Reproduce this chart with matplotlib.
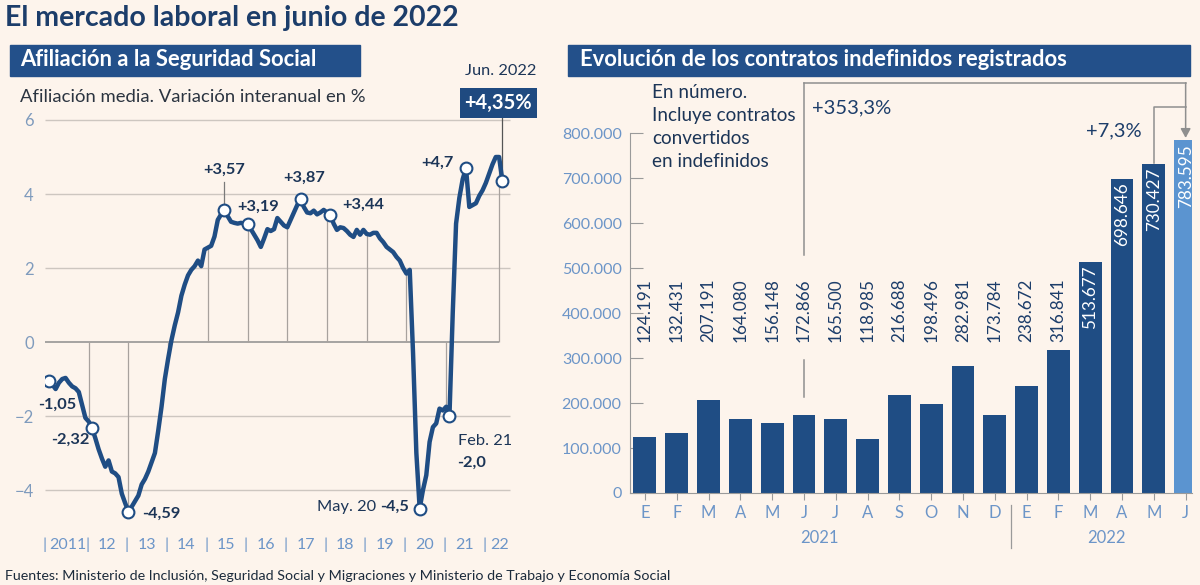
import matplotlib
matplotlib.use("Agg")
import matplotlib.pyplot as plt
from matplotlib.patches import Rectangle
from matplotlib import transforms

plt.rcParams["font.family"] = ["Lato", "DejaVu Sans"]

# ---- data ----
# afiliacion media, variacion interanual (%), mensual ene 2011 - jun 2022
afil = [-1.05, -1.15, -1.27, -1.10, -1.00, -0.97, -1.10, -1.20, -1.25, -1.35, -1.70, -2.05,
        -2.15, -2.32, -2.60, -2.90, -3.15, -3.37, -3.20, -3.50, -3.55, -3.65, -4.10, -4.35,
        -4.59, -4.45, -4.30, -4.15, -3.85, -3.70, -3.50, -3.25, -3.00, -2.40, -1.75, -1.00,
        -0.45, 0.05, 0.45, 0.80, 1.25, 1.55, 1.80, 1.95, 2.05, 2.20, 2.05, 2.50,
        2.55, 2.60, 2.85, 3.30, 3.45, 3.57, 3.40, 3.25, 3.22, 3.20, 3.22, 3.20,
        3.19, 3.05, 2.90, 2.75, 2.57, 2.80, 3.05, 3.00, 3.05, 3.35, 3.25, 3.15,
        3.10, 3.30, 3.50, 3.70, 3.87, 3.65, 3.50, 3.48, 3.55, 3.45, 3.50, 3.57,
        3.50, 3.44, 3.20, 3.03, 3.10, 3.08, 3.00, 2.90, 2.84, 3.03, 2.90, 3.03,
        2.92, 2.90, 2.95, 2.95, 2.80, 2.70, 2.57, 2.50, 2.43, 2.30, 2.20, 2.00,
        1.85, 1.95, -0.30, -3.00, -4.50, -4.00, -3.60, -2.70, -2.30, -2.20, -1.80, -1.85,
        -1.75, -2.00, 0.80, 3.20, 3.90, 4.40, 4.70, 3.65, 3.70, 3.75, 3.95, 4.10,
        4.30, 4.55, 4.80, 5.00, 5.00, 4.35]
years = ["2011", "12", "13", "14", "15", "16", "17", "18", "19", "20", "21", "22"]
marked = [0, 13, 24, 53, 60, 76, 85, 112, 121, 126, 137]

# contratos indefinidos registrados, ene 2021 - jun 2022
meses = ["E", "F", "M", "A", "M", "J", "J", "A", "S", "O", "N", "D",
         "E", "F", "M", "A", "M", "J"]
contratos = [124191, 132431, 207191, 164080, 156148, 172866, 165500, 118985, 216688,
             198496, 282981, 173784, 238672, 316841, 513677, 698646, 730427, 783595]

navy = "#1f4d84"
light = "#5b94d0"
tick_blue = "#6c95c8"
grey_txt = "#7f9bbd"
bg = "#fdf4ec"
W, H = 1200, 585


def fx(x):
    return x / W


def fy(y):
    return 1 - y / H


def fmt(n):
    return f"{n:,}".replace(",", ".")


fig = plt.figure(figsize=(12, 5.85), dpi=100, facecolor=bg)

# titles
fig.text(fx(5), fy(18), "El mercado laboral en junio de 2022", fontsize=20.5,
         fontweight="bold", color="#1c3d6a", va="center", ha="left")
fig.patches.append(Rectangle((fx(10), fy(76)), fx(350), 31 / H, transform=fig.transFigure,
                             color="#23508a", zorder=0))
fig.text(fx(20), fy(60), "Afiliación a la Seguridad Social", fontsize=15.8,
         fontweight="bold", color="white", va="center")
fig.patches.append(Rectangle((fx(568), fy(76)), fx(622), 31 / H, transform=fig.transFigure,
                             color="#23508a", zorder=0))
fig.text(fx(580), fy(60), "Evolución de los contratos indefinidos registrados", fontsize=15.8,
         fontweight="bold", color="white", va="center")
fig.text(fx(20), fy(97), "Afiliación media. Variación interanual en %", fontsize=13.3,
         color="#2b3440", va="center")
fig.text(fx(5), fy(576), "Fuentes: Ministerio de Inclusión, Seguridad Social y Migraciones "
         "y Ministerio de Trabajo y Economía Social", fontsize=10.25, color="#1c2b3c",
         va="center")

# ---- left chart ----
axL = fig.add_axes([fx(45), fy(520), fx(512 - 45), 405 / H])
axL.set_facecolor("none")
axL.set_xlim(-1.21, 139.9)
axL.set_ylim(-4.81, 6.135)
for s in axL.spines.values():
    s.set_visible(False)
axL.set_xticks([])
axL.set_yticks([-4, -2, 0, 2, 4, 6])
axL.set_yticklabels(["−4", "−2", "0", "2", "4", "6"])
axL.tick_params(axis="y", length=0, pad=8, labelsize=12, labelcolor=grey_txt)

n = len(afil)
axL.hlines([6, 4, 2, -2, -4], -1.2, 139.3, color="#cdc6c0", lw=1, zorder=1)
axL.hlines(0, -1.2, 136, color="#8e8e8e", lw=1.1, zorder=1)
for k in range(1, 11):
    axL.vlines(12 * k, 0, afil[12 * k], color="#a8a29e", lw=0.9, zorder=1)
axL.vlines(n - 2, 0, afil[n - 2], color="#a8a29e", lw=0.9, zorder=1)

axL.plot(range(n), afil, color=navy, lw=3.2, solid_joinstyle="round", zorder=3)
axL.plot(marked, [afil[i] for i in marked], "o", ms=8.5, mfc="white", mec=navy,
         mew=1.5, zorder=4)

# x labels with separators
ylab = -5.49
for k, yr in enumerate(years):
    xc = 12 * k + 5.5
    sep = 12 * k - 0.5
    if k == 0:
        xc = 5.6
        sep = -1.4
    if k == len(years) - 1:
        xc = 136
    axL.text(xc, ylab, yr, ha="center", va="center", fontsize=11.5, color=tick_blue)
    axL.text(sep, ylab, "|", ha="center", va="center", fontsize=11.5, color=tick_blue)

lab_kw = dict(textcoords="offset pixels", fontsize=11.8, color="#1c3557", va="center")


def lab(i, txt, dx, dy, ha="center", bold=True):
    return axL.annotate(txt, xy=(i, afil[i]), xytext=(dx, dy), ha=ha,
                        fontweight="bold" if bold else "normal", zorder=5, **lab_kw)


lab(0, "-1,05", 8, -24)
lab(13, "-2,32", -3, -12, ha="right")
lab(24, "-4,59", 14, -2, ha="left")
lab(53, "+3,57", 0, 40)
axL.plot([53, 53], [afil[53] + 0.18, afil[53] + 0.75], color="#7a7a7a", lw=0.9, zorder=2)
lab(60, "+3,19", 11, 17)
lab(76, "+3,87", 4, 21)
lab(85, "+3,44", 12, 10, ha="left")
lab(126, "+4,7", -12, 5, ha="right")
a1 = lab(112, "-4,5", -11, 2, ha="right")
axL.annotate("May. 20", xy=(0, 0.5), xycoords=a1, xytext=(-4, 0), textcoords="offset pixels",
             ha="right", va="center", fontsize=11.8, color="#1c3557")
lab(121, "Feb. 21", 9, -25, ha="left", bold=False)
lab(121, "-2,0", 8, -47, ha="left")
axL.annotate("Jun. 2022", xy=(n - 1, afil[-1]), xytext=(-2, 110), ha="center",
             textcoords="offset pixels", fontsize=11.8, color="#1c3557", va="center",
             annotation_clip=False)
axL.annotate("+4,35%", xy=(n - 1, afil[-1]), xytext=(-4, 78), ha="center",
             textcoords="offset pixels", fontsize=14.5, fontweight="bold", color="white",
             va="center", annotation_clip=False,
             bbox=dict(boxstyle="square,pad=0.25", fc="#1f4a80", ec="none"))
axL.plot([n - 1, n - 1], [afil[-1] + 0.17, afil[-1] + 1.8], color="#555555", lw=0.9,
         zorder=2, clip_on=False)

# ---- right chart ----
axR = fig.add_axes([fx(630), fy(493), fx(1192 - 630), (493 - 76) / H])
axR.set_facecolor("none")
axR.set_xlim(-0.47, 17.2)
axR.set_ylim(0, 926667)
xs = list(range(len(contratos)))
colors = [navy] * (len(contratos) - 1) + [light]
axR.bar(xs, contratos, width=0.72, color=colors, zorder=2)

for s in ["top", "right"]:
    axR.spines[s].set_visible(False)
axR.spines["left"].set_bounds(0, 800000)
axR.spines["left"].set_color("#9a9a9a")
axR.spines["bottom"].set_color("#9a9a9a")
axR.set_yticks(range(0, 800001, 100000))
axR.set_yticklabels([fmt(v) for v in range(0, 800001, 100000)])
axR.tick_params(axis="y", direction="in", length=9, color="#9a9a9a", pad=6,
                labelsize=11.5, labelcolor=tick_blue)
axR.set_xticks(xs)
axR.set_xticklabels(meses)
axR.tick_params(axis="x", direction="out", length=5, color="#9a9a9a", pad=4,
                labelsize=12, labelcolor=tick_blue)

bt = transforms.blended_transform_factory(axR.transData, axR.transAxes)
axR.text(5.5, -0.108, "2021", transform=bt, ha="center", va="center", fontsize=12,
         color=tick_blue)
axR.text(14.5, -0.108, "2022", transform=bt, ha="center", va="center", fontsize=12,
         color=tick_blue)
axR.plot([11.5, 11.5], [-0.029, -0.132], transform=bt, color="#9a9a9a", lw=0.9,
         clip_on=False)

for j, v in enumerate(contratos):
    if j < 14:
        axR.text(j, 407000, fmt(v), rotation=90, ha="center", va="center", fontsize=12.3,
                 color="#1c3d6a", zorder=3)
    else:
        axR.text(j, v - 8000, fmt(v), rotation=90, ha="center", va="top", fontsize=12.3,
                 color="white", zorder=3)

axR.text(0.22, 908000, "En número.\nIncluye contratos\nconvertidos\nen indefinidos",
         ha="left", va="top", fontsize=13.6, color="#1c3557", linespacing=1.42)

gline = "#8f8f8f"
axR.plot([5, 5], [911000, 530000], color=gline, lw=1.1, zorder=1)
axR.plot([5, 5], [296000, 213000], color=gline, lw=1.1, zorder=1)
axR.plot([5, 17], [911000, 911000], color=gline, lw=1.1, zorder=1)
axR.plot([16, 16, 17], [733000, 858000, 858000], color=gline, lw=1.1, zorder=1)
axR.annotate("", xy=(17, 789000), xytext=(17, 911500),
             arrowprops=dict(arrowstyle="-|>,head_width=0.3,head_length=0.55", color=gline,
                             lw=1.1, shrinkA=0, shrinkB=0))
axR.text(5.25, 855000, "+353,3%", ha="left", va="center", fontsize=14.5, color="#1c3d6a")
axR.text(14.75, 804000, "+7,3%", ha="center", va="center", fontsize=14.5, color="#1c3d6a")

fig.savefig("out.png", dpi=100, facecolor=bg)
